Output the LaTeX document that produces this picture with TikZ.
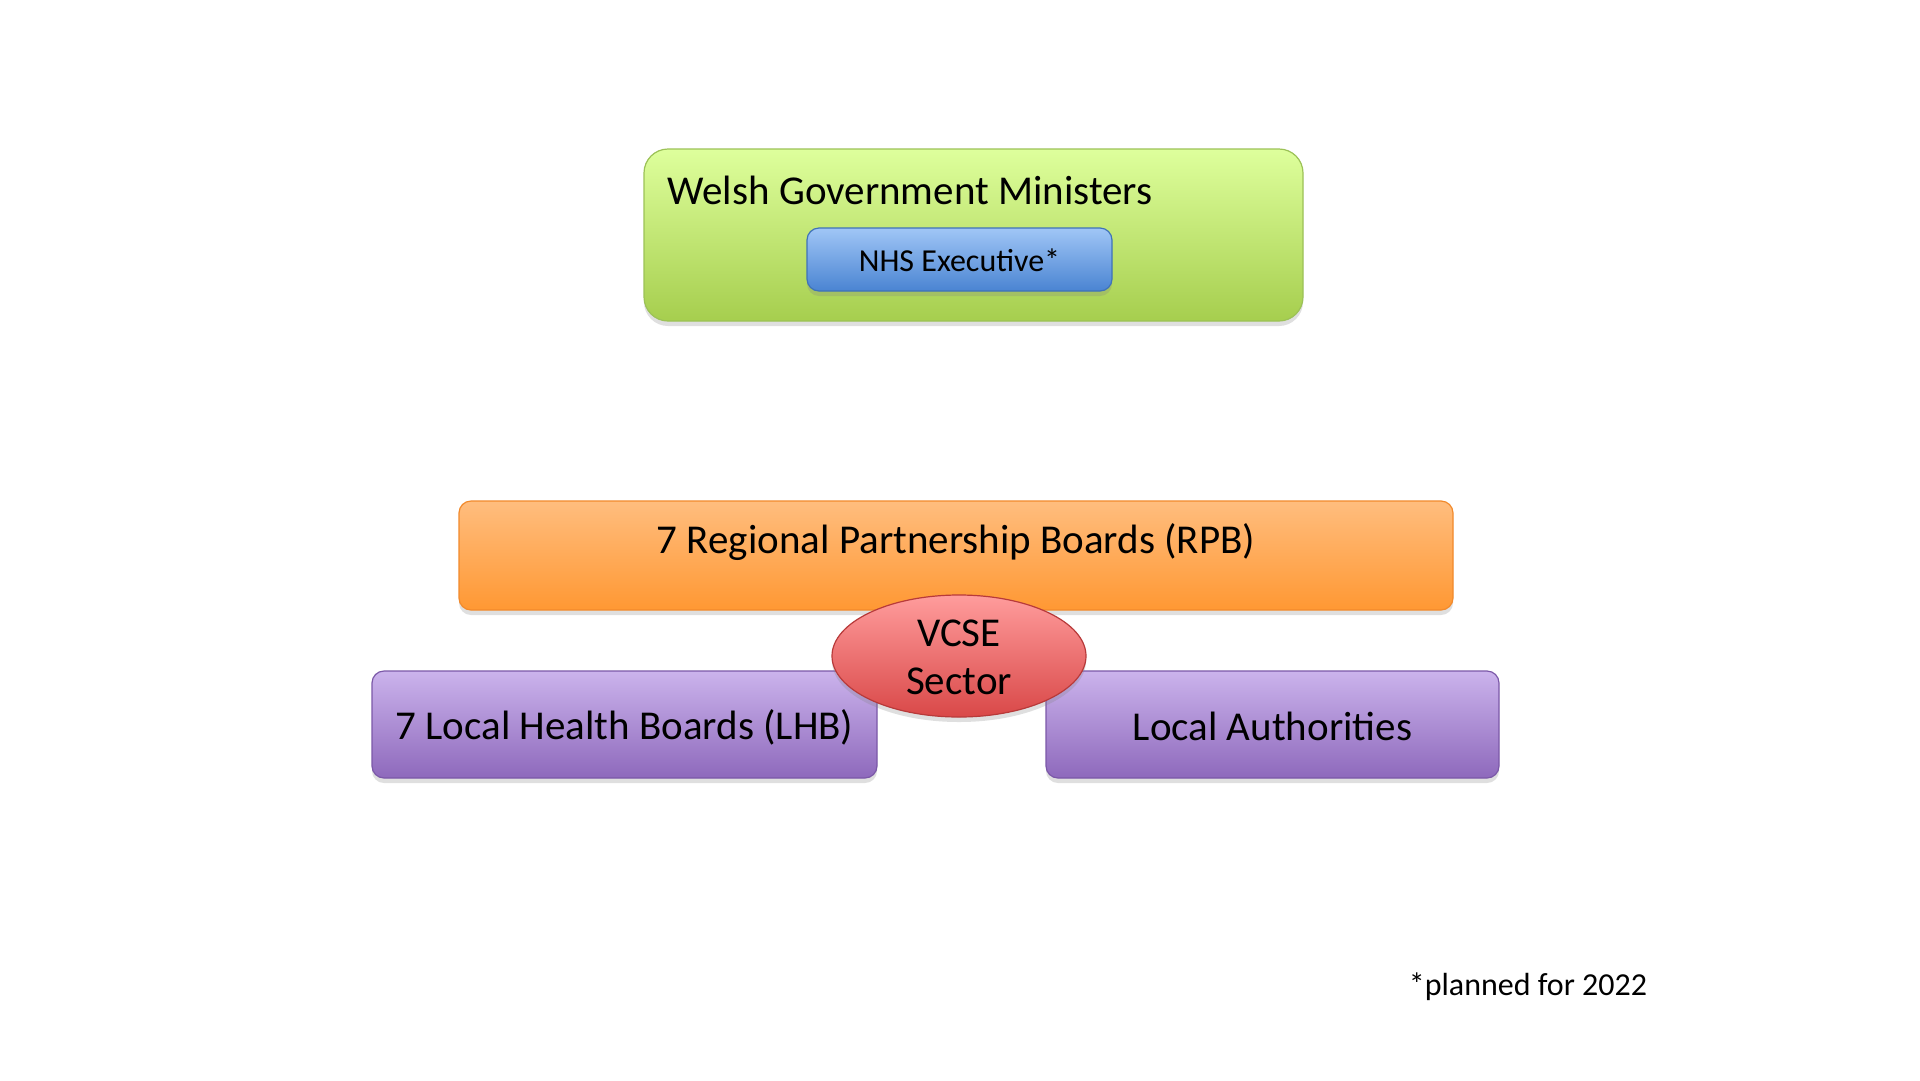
\documentclass[tikz,border=0pt]{standalone}
\usepackage{fontspec}
\setmainfont{Carlito}
\usetikzlibrary{shadows,shapes.geometric}
\definecolor{gtop}{HTML}{DEFF9C}
\definecolor{gbot}{HTML}{A6CE4E}
\definecolor{gline}{HTML}{9CC257}
\definecolor{btop}{HTML}{A0C6F6}
\definecolor{bbot}{HTML}{4A84D2}
\definecolor{bline}{HTML}{3F72B8}
\definecolor{otop}{HTML}{FFBD7E}
\definecolor{obot}{HTML}{FF9833}
\definecolor{oline}{HTML}{F28A2C}
\definecolor{ptop}{HTML}{CBB3EC}
\definecolor{pbot}{HTML}{8E69BC}
\definecolor{pline}{HTML}{7B58A8}
\definecolor{rtop}{HTML}{FF9C9C}
\definecolor{rbot}{HTML}{D94848}
\definecolor{rline}{HTML}{B83A3A}
\tikzset{
  boxbase/.style={rounded corners=12pt, line width=1.2pt, inner sep=0pt,
    drop shadow={opacity=0.25, shadow xshift=0pt, shadow yshift=-5pt}},
  greenbox/.style={boxbase, rounded corners=24pt, draw=gline, top color=gtop, bottom color=gbot},
  bluebox/.style={boxbase, draw=bline, top color=btop, bottom color=bbot},
  orangebox/.style={boxbase, draw=oline, top color=otop, bottom color=obot},
  purplebox/.style={boxbase, draw=pline, top color=ptop, bottom color=pbot},
  redell/.style={ellipse, line width=1.2pt, inner sep=0pt, draw=rline, top color=rtop, bottom color=rbot,
    drop shadow={opacity=0.25, shadow xshift=0pt, shadow yshift=-5pt}},
  bigtxt/.style={font=\fontsize{41}{49}\selectfont, text=black},
  midtxt/.style={font=\fontsize{32}{38}\selectfont, text=black},
}
\begin{document}
\begin{tikzpicture}[x=1pt,y=-1pt]
\useasboundingbox[fill=white] (0,0) rectangle (1920,1080);
\node[greenbox, minimum width=659pt, minimum height=172pt] (wg) at (973.5,235) {};
\node[bigtxt, anchor=west] (wgt) at (664,190) {Welsh Government Ministers};
\node[bluebox, minimum width=305pt, minimum height=63pt] (nhs) at (959.5,259.5) {};
\node[midtxt] (nhst) at (959.5,260) {NHS Executive*};
\node[orangebox, minimum width=994pt, minimum height=109pt] (rpb) at (956,555.5) {};
\node[bigtxt] (rpbt) at (956,542.5) {7 Regional Partnership Boards (RPB)};
\node[purplebox, minimum width=505pt, minimum height=107pt] (lhb) at (624.5,724.5) {};
\node[bigtxt] (lhbt) at (624.5,727) {7 Local Health Boards (LHB)};
\node[purplebox, minimum width=453pt, minimum height=107pt] (la) at (1272.5,724.5) {};
\node[bigtxt] (lat) at (1272.5,726) {Local Authorities};
\node[redell, minimum width=254pt, minimum height=122pt] (vcse) at (959,656) {};
\node[bigtxt] (vcse1) at (959,633) {VCSE};
\node[bigtxt] (vcse2) at (959,681) {Sector};
\node[font=\fontsize{32}{38}\selectfont] (note) at (1528,987) {*planned for 2022};
\end{tikzpicture}
\end{document}
